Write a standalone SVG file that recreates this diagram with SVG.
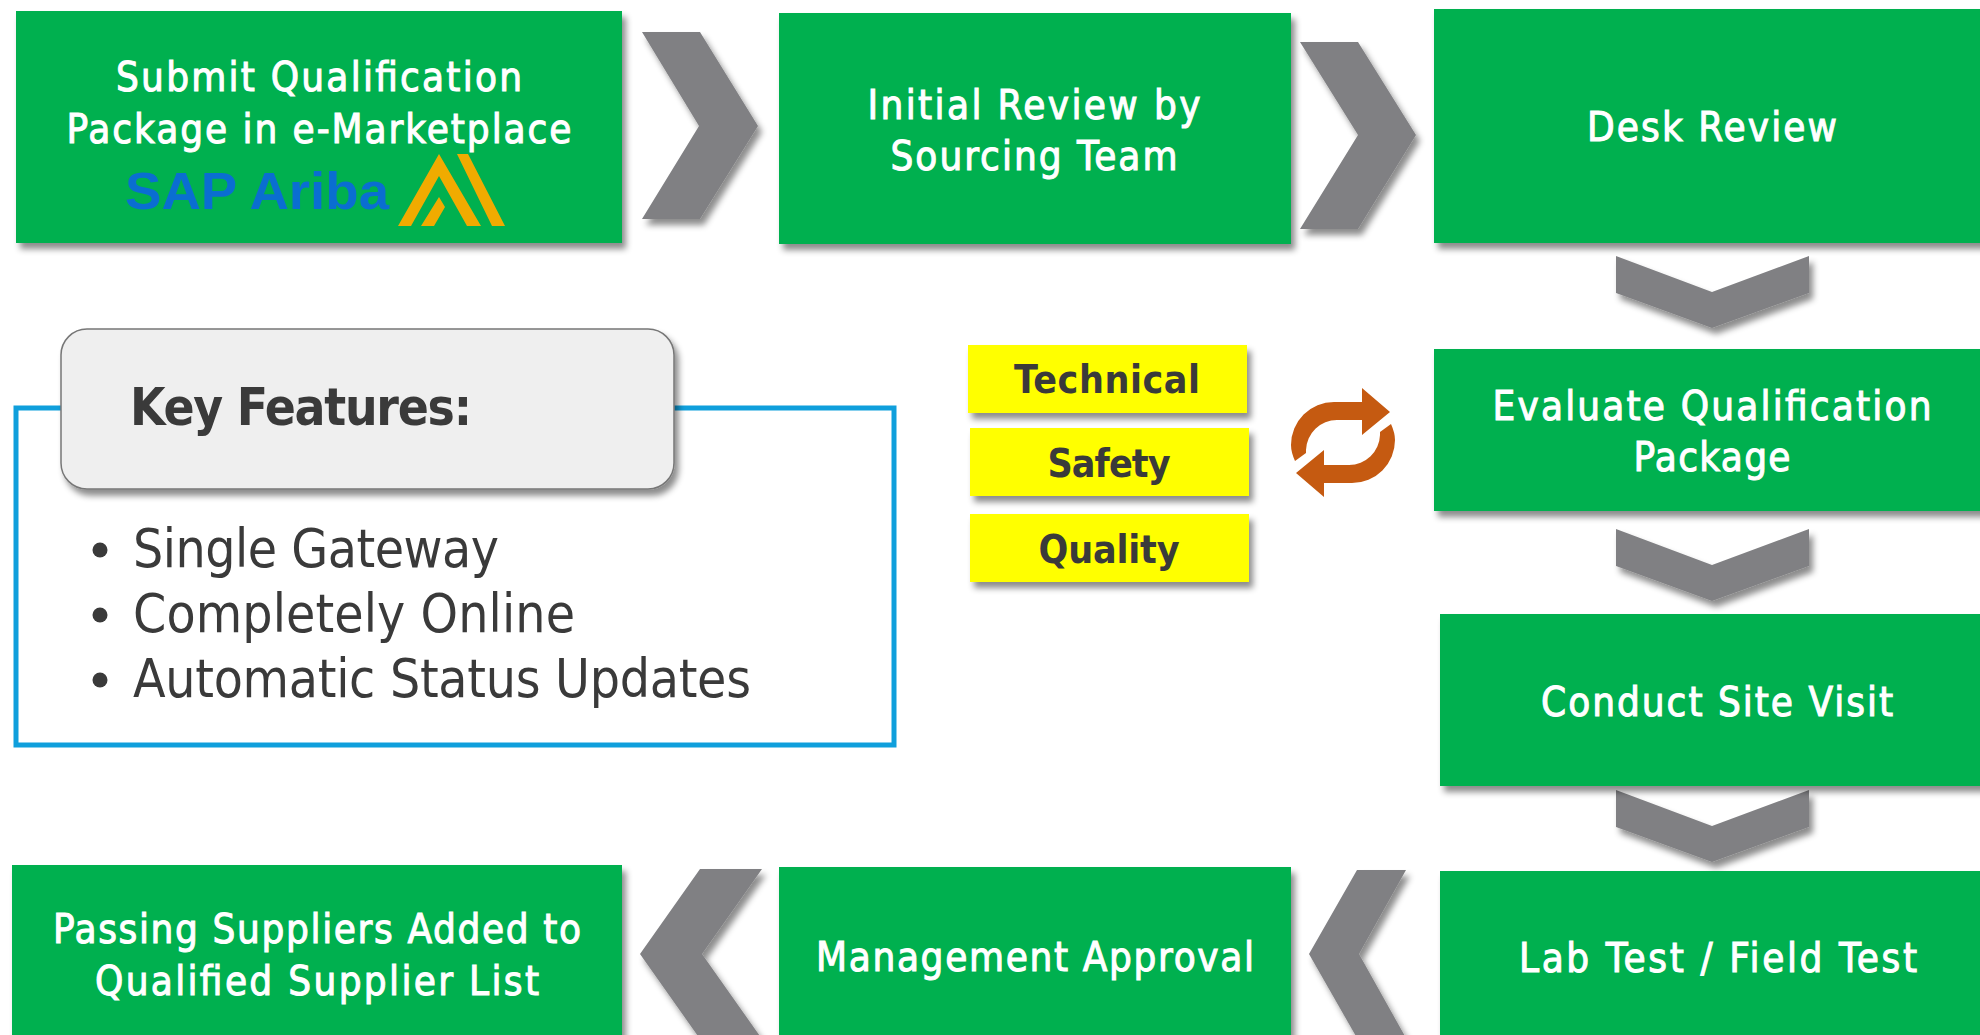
<svg xmlns="http://www.w3.org/2000/svg" width="1980" height="1035" viewBox="0 0 1980 1035">
<style>
.g{fill:#00b050}
.y{fill:#ffff00}
.c{fill:#808083}
.t{font-family:"DejaVu Sans Condensed","DejaVu Sans",sans-serif;font-size:40px;fill:#fff;stroke:#fff;stroke-width:1px;text-anchor:middle}
.yt{font-family:"DejaVu Sans Condensed","DejaVu Sans",sans-serif;font-size:39px;font-weight:700;fill:#3a3a3a;text-anchor:middle}
.b{font-family:"DejaVu Sans Condensed","DejaVu Sans",sans-serif;font-size:53px;fill:#3a3a3a}
.k{font-size:51px;font-weight:700}
.lg{fill:#f0ab00}
</style>
<defs>
<filter id="s" x="-10%" y="-10%" width="125%" height="130%"><feDropShadow dx="4" dy="6" stdDeviation="3" flood-color="#000" flood-opacity=".45"/></filter>
</defs>
<rect width="1980" height="1035" fill="#fff"/>
<g id="connectors">
<path class="c" filter="url(#s)" d="M642 32H700L758 126L700 219H642L699 126Z"/>
<path class="c" filter="url(#s)" d="M1300 42H1358L1416 135L1358 229H1300L1358 135Z"/>
<path class="c" filter="url(#s)" d="M1616 256L1712 292L1809 256V293L1712 328L1616 293Z"/>
<path class="c" filter="url(#s)" d="M1616 529L1712 565L1809 529V566L1712 601L1616 566Z"/>
<path class="c" filter="url(#s)" d="M1616 790L1712 826L1809 790V827L1712 862L1616 827Z"/>
<path class="c" filter="url(#s)" d="M1406 870H1357L1309 954L1357 1038H1406L1359 954Z"/>
<path class="c" filter="url(#s)" d="M762 869H700L640 954L700 1039H762L702 954Z"/>
</g>
<g id="n1"><rect class="g" filter="url(#s)" x="16" y="11" width="606" height="232"/>
<text class="t" x="319" y="91" textLength="406">Submit Qualification</text>
<text class="t" x="319" y="143" textLength="505">Package in e-Marketplace</text>
<text x="125" y="209" textLength="264" lengthAdjust="spacingAndGlyphs" font-family="Liberation Sans,sans-serif" font-weight="700" font-size="52" fill="#0a6ed1">SAP Ariba</text>
<path class="lg" d="M439 154L481 226H467L439 176L411 226H398ZM439 197L421 226H434L445 207ZM457 154H468L505 226H492Z"/>
</g>
<g id="n2"><rect class="g" filter="url(#s)" x="779" y="13" width="512" height="231"/>
<text class="t" x="1034" y="119" textLength="333">Initial Review by</text>
<text class="t" x="1034" y="170" textLength="287">Sourcing Team</text></g>
<g id="n3"><rect class="g" filter="url(#s)" x="1434" y="9" width="560" height="234"/>
<text class="t" x="1712" y="141" textLength="250">Desk Review</text></g>
<g id="n4"><rect class="g" filter="url(#s)" x="1434" y="349" width="560" height="162"/>
<text class="t" x="1712" y="420" textLength="439">Evaluate Qualification</text>
<text class="t" x="1712" y="471" textLength="157">Package</text></g>
<g id="n5"><rect class="g" filter="url(#s)" x="1440" y="614" width="554" height="172"/>
<text class="t" x="1717" y="716" textLength="352">Conduct Site Visit</text></g>
<g id="n6"><rect class="g" filter="url(#s)" x="1440" y="871" width="554" height="175"/>
<text class="t" x="1718" y="972" textLength="398">Lab Test / Field Test</text></g>
<g id="n7"><rect class="g" filter="url(#s)" x="779" y="867" width="512" height="179"/>
<text class="t" x="1035" y="971" textLength="438">Management Approval</text></g>
<g id="n8"><rect class="g" filter="url(#s)" x="12" y="865" width="610" height="180"/>
<text class="t" x="317" y="943" textLength="528">Passing Suppliers Added to</text>
<text class="t" x="317" y="995" textLength="444">Qualified Supplier List</text></g>
<g id="features">
<rect x="16" y="408" width="878" height="337" fill="#fff" stroke="#0f9fdc" stroke-width="5"/>
<rect x="61" y="329" width="613" height="160" rx="26" fill="#efefef" stroke="#777" stroke-width="1.5" filter="url(#s)"/>
<text class="b k" x="130" y="425" textLength="342">Key Features:</text>
<circle cx="100" cy="550" r="7.500" fill="#3a3a3a"/><circle cx="100" cy="615" r="7.500" fill="#3a3a3a"/><circle cx="100" cy="680" r="7.500" fill="#3a3a3a"/>
<text class="b" x="133" y="567" textLength="366">Single Gateway</text>
<text class="b" x="133" y="632" textLength="442">Completely Online</text>
<text class="b" x="133" y="697" textLength="618">Automatic Status Updates</text>
</g>
<g id="y1"><rect class="y" filter="url(#s)" x="968" y="345" width="279" height="68"/><text class="yt" x="1107" y="393" textLength="186">Technical</text></g>
<g id="y2"><rect class="y" filter="url(#s)" x="970" y="428" width="279" height="68"/><text class="yt" x="1109" y="477" textLength="123">Safety</text></g>
<g id="y3"><rect class="y" filter="url(#s)" x="970" y="514" width="279" height="68"/><text class="yt" x="1109" y="563" textLength="141">Quality</text></g>
<g id="cycle" fill="#c55a11">
<path d="M1362 388L1390 412L1362 435V420H1337A31 31 0 0 0 1306 450V453L1295 461Q1291 452 1291 445A43 43 0 0 1 1334 402H1362Z"/>
<path transform="rotate(180 1343 442.500)" d="M1362 388L1390 412L1362 435V420H1337A31 31 0 0 0 1306 450V453L1295 461Q1291 452 1291 445A43 43 0 0 1 1334 402H1362Z"/>
</g>
</svg>
